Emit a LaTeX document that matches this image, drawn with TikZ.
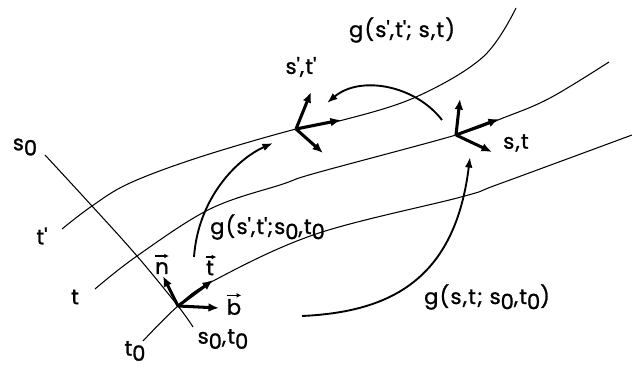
\documentclass[tikz,border=0pt]{standalone}
\usepackage{fontspec}
\setmainfont{Poppins}[LetterSpace=6, FakeBold=1.2]
\usetikzlibrary{arrows.meta}
\newcommand\pr{\textquotesingle}
\newcommand\dn[1]{\raisebox{-.45ex}{#1}}

\begin{document}
\begin{tikzpicture}[x=0.03cm, y=-0.03cm,
    field/.style={line width=0.9pt},
    axis/.style={line width=2.6pt, -{Latex[length=9pt,width=7.5pt]}},
    mapping/.style={line width=1.6pt, -{Latex[length=9pt,width=6.5pt]}},
    vecmark/.style={line width=1.3pt, -{Latex[length=4pt,width=4pt]}},
    lbl/.style={inner sep=0pt, font=\fontsize{18}{20}\selectfont}]
  \useasboundingbox (0,0) rectangle (632,368);

  % coordinate lines
  \draw[field] plot[smooth, tension=0.6] coordinates {(62,229) (92,206) (130,183)
    (200,157) (296,129) (343,120) (416,97) (483,57) (516,8)};
  \draw[field] plot[smooth, tension=0.6] coordinates {(95,289) (137,256) (210,209)
    (283,184) (316,173) (456,135) (503,118) (550,98) (609,62)};
  \draw[field] plot[smooth, tension=0.6] coordinates {(143,341) (178,306) (213,281)
    (316,234) (461,197) (499,184) (632,135)};
  \draw[field] plot[smooth, tension=0.6] coordinates {(45,155) (92,206) (137,256)
    (178,306) (193,327)};

  % frames
  \coordinate (o0) at (178,306);
  \coordinate (o1) at (296,129);
  \coordinate (o2) at (456,135);
  \draw[axis] (o0) -- ++(-15,-30);
  \draw[axis] (o0) -- ++(35,-26);
  \draw[axis] (o0) -- ++(41,2);
  \draw[axis] (o1) -- ++(15,-37);
  \draw[axis] (o1) -- ++(45,-9);
  \draw[axis] (o1) -- ++(27,24);
  \draw[axis] (o2) -- ++(4,-36);
  \draw[axis] (o2) -- ++(43,-16);
  \draw[axis] (o2) -- ++(36,17);

  % labels
  \node[lbl] (s0lbl) at (25,147) {s\dn{0}};
  \node[lbl] (tplbl) at (42,236) {t\pr};
  \node[lbl] (tlbl) at (75,297) {t};
  \node[lbl] (t0lbl) at (135,351) {t\dn{0}};
  \node[lbl] (o0lbl) at (223,339) {s\dn{0},t\dn{0}};
  \node[lbl] (o1lbl) at (301,67) {s\pr,t\pr};
  \node[lbl] (o2lbl) at (516,143) {s,t};
  \node[lbl] (nlbl) at (162,268) {n};
  \node[lbl] (tanlbl) at (210,268) {t};
  \node[lbl] (blbl) at (234,307) {b};
  \draw[vecmark] ([yshift=5pt]nlbl.north west) -- ([yshift=5pt]nlbl.north east);
  \draw[vecmark] ([yshift=3pt]tanlbl.north west) -- ([yshift=3pt,xshift=2pt]tanlbl.north east);
  \draw[vecmark] ([yshift=3pt]blbl.north west) -- ([yshift=3pt]blbl.north east);
  \node[lbl] (g21) at (402,30) {g(s\pr,t\pr; s,t)};
  \node[lbl, anchor=west] (g10) at (210,227) {g(s\pr,t\pr;s\dn{0},t\dn{0}};
  \node[lbl] (g20) at (487,297) {g(s,t; s\dn{0},t\dn{0})};

  % mappings
  \coordinate (a0) at (194,257);
  \coordinate (a1) at (273,143);
  \coordinate (b0) at (442,120);
  \coordinate (b1) at (327,103);
  \coordinate (c0) at (302,316);
  \coordinate (c1) at (470,157);
  \draw[mapping] (a0) .. controls (198,200) and (235,160) .. (a1);
  \draw[mapping] (b0) .. controls (415,85) and (360,75) .. (b1);
  \draw[mapping] (c0) .. controls (390,312) and (455,280) .. (c1);
\end{tikzpicture}
\end{document}
